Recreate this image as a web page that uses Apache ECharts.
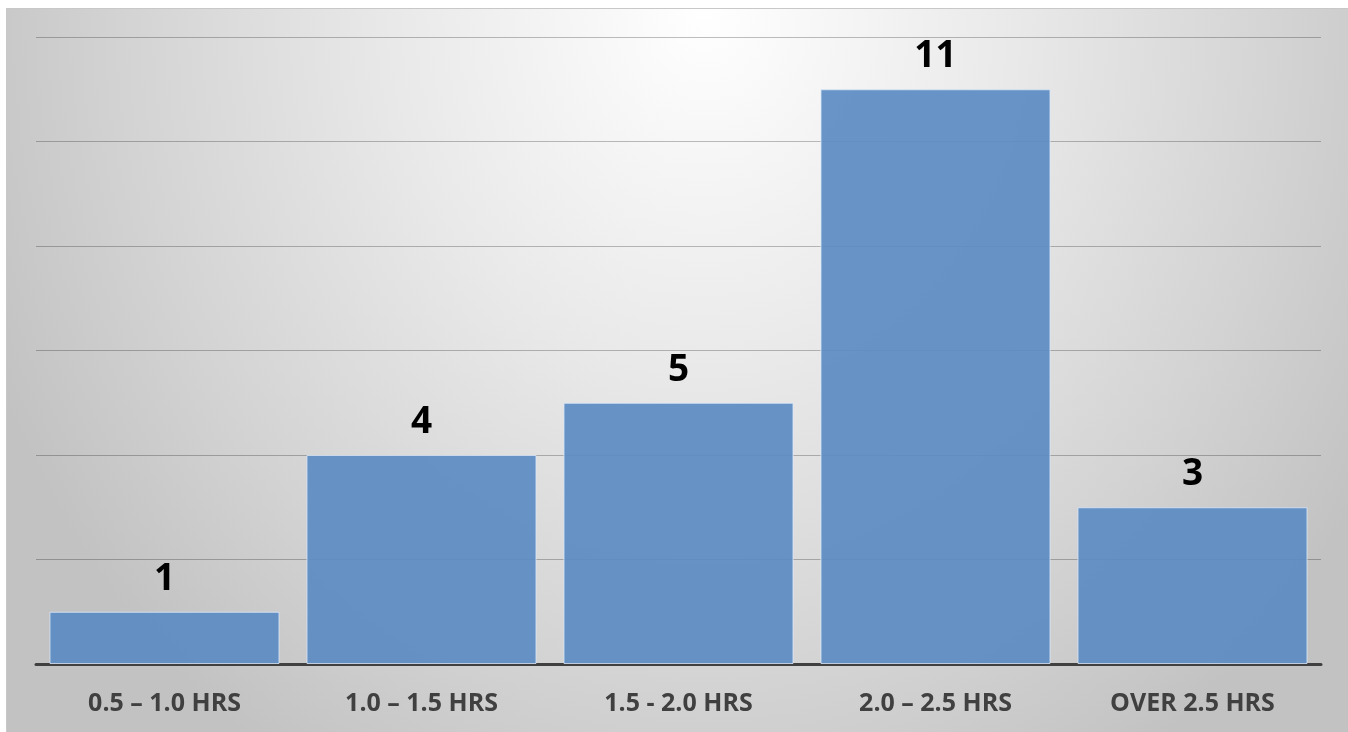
<!DOCTYPE html>
<html>
<head>
<meta charset="utf-8">
<script src="https://cdn.jsdelivr.net/npm/echarts@6/dist/echarts.min.js"></script>
<style>
html,body{margin:0;padding:0;background:#fff;width:1348px;height:732px;overflow:hidden;}
#box{position:absolute;left:6px;top:8px;width:1342px;height:724px;
background:radial-gradient(ellipse 58% 125% at 52% 0%, #ffffff 0%, #e9e9e9 40%, #d3d3d3 75%, #c2c2c2 100%);
border-top:1px solid #c8c8c8;border-left:1px solid #c8c8c8;box-sizing:border-box;}
#chart{width:100%;height:100%;}
</style>
</head>
<body>
<div id="box"><div id="chart"></div></div>
<script>
const categories = ['0.5 – 1.0 HRS', '1.0 – 1.5 HRS', '1.5 - 2.0 HRS', '2.0 – 2.5 HRS', 'OVER 2.5 HRS'];
const values = [1, 4, 5, 11, 3];

const chart = echarts.init(document.getElementById('chart'));
chart.setOption({
  backgroundColor: 'transparent',
  animation: false,
  grid: { left: 29, right: 27, top: 28, bottom: 68 },
  xAxis: {
    type: 'category',
    data: categories,
    axisLine: { lineStyle: { color: '#404040', width: 3 } },
    axisTick: { show: false },
    axisLabel: { color: '#404040', fontSize: 25, fontWeight: 'bold', fontFamily: 'Open Sans, sans-serif', margin: 27 }
  },
  yAxis: {
    type: 'value',
    min: 0, max: 12, interval: 2,
    axisLabel: { show: false },
    axisLine: { show: false },
    axisTick: { show: false },
    splitLine: { lineStyle: { color: 'rgba(0,0,0,0.25)', width: 1 } }
  },
  series: [{
    type: 'bar',
    data: values,
    barCategoryGap: '10.5%',
    itemStyle: { color: 'rgba(91,139,195,0.92)', borderColor: 'rgba(220,232,248,0.8)', borderWidth: 1 },
    label: {
      show: true, position: 'top', distance: 14,
      color: '#000', fontSize: 37, fontWeight: 'bold', fontFamily: 'Open Sans, sans-serif'
    }
  }]
});
</script>
</body>
</html>
